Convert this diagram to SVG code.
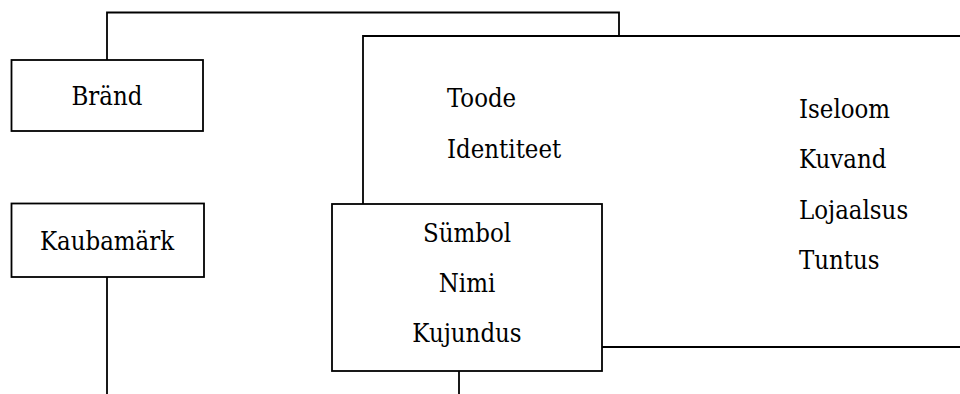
<svg xmlns="http://www.w3.org/2000/svg" width="960" height="394" viewBox="0 0 960 394">
<style>
.box{fill:#fff;stroke:#000;stroke-width:1.8}
.ln{fill:none;stroke:#000;stroke-width:1.8}
.t{font-family:'DejaVu Serif',serif;font-stretch:condensed;font-size:25.5px;fill:#000}
.c{text-anchor:middle}
</style>
<rect width="960" height="394" fill="#fff"/>
<g id="connectors">
<polyline class="ln" points="107,60 107,12.5 619,12.5 619,36"/>
<polyline class="ln" points="363,204 363,36 962,36"/>
<polyline class="ln" points="602,347 962,347"/>
<line class="ln" x1="107" y1="277" x2="107" y2="396"/>
<line class="ln" x1="459" y1="371" x2="459" y2="396"/>
</g>
<g id="brand" class="t">
<rect class="box" x="11.5" y="60" width="191.5" height="71"/>
<text class="c" x="107" y="105">Bränd</text>
</g>
<g id="kaubamark" class="t">
<rect class="box" x="11.5" y="203.5" width="192.5" height="73.5"/>
<text class="c" x="107" y="250">Kaubamärk</text>
</g>
<g id="toode" class="t">
<text x="447" y="107">Toode</text>
<text x="447" y="158">Identiteet</text>
<text x="799" y="118">Iseloom</text>
<text x="799" y="168">Kuvand</text>
<text x="799" y="219">Lojaalsus</text>
<text x="799" y="269">Tuntus</text>
</g>
<g id="symbol" class="t">
<rect class="box" x="332" y="204" width="270" height="167"/>
<text class="c" x="467" y="242">Sümbol</text>
<text class="c" x="467" y="292">Nimi</text>
<text class="c" x="467" y="342">Kujundus</text>
</g>
</svg>
